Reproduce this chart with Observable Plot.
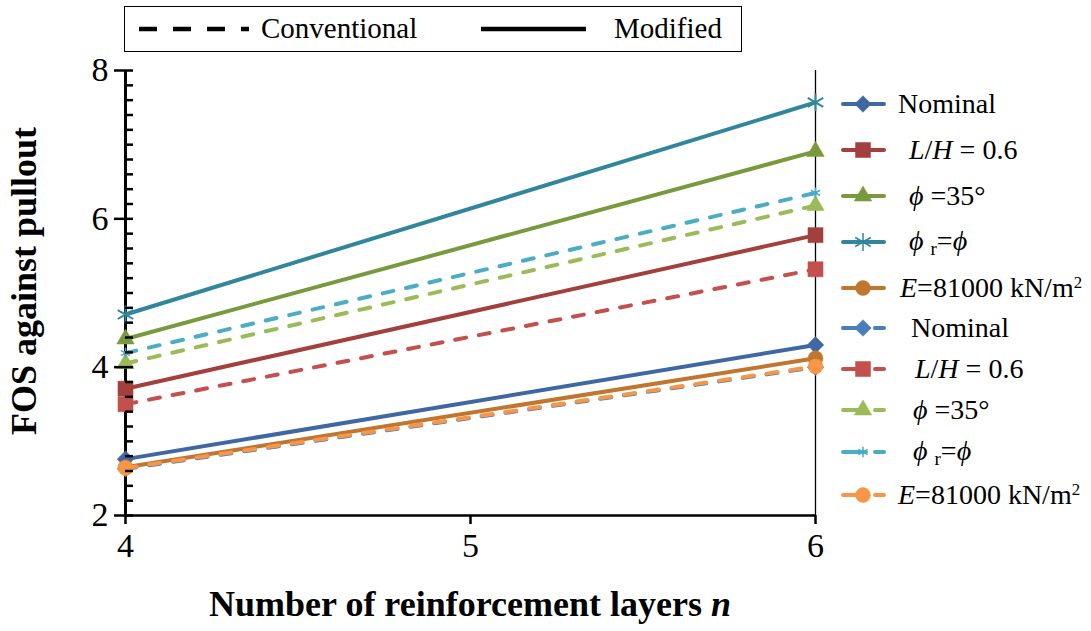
<!DOCTYPE html>
<html>
<head>
<meta charset="utf-8">
<script src="https://cdn.jsdelivr.net/npm/d3@7"></script>
<script src="https://cdn.jsdelivr.net/npm/@observablehq/plot@0.6"></script>
<style>
  body { margin: 0; background: #fff; }
  #wrap, #wrap * { font-family: "Liberation Serif", "Times New Roman", serif; }
  #wrap { position: relative; width: 1091px; height: 631px; color: #000; overflow: hidden; }
  #chart { position: absolute; left: 0; top: 0; }
  .toplegend { position: absolute; left: 124px; top: 6px; width: 618px; height: 46px; border: 1.5px solid #000; box-sizing: border-box; }
  .tl { position: absolute; top: 0; height: 43px; line-height: 43px; font-size: 29px; font-weight: normal; white-space: nowrap; }
  .entry { position: absolute; left: 838px; height: 30px; display: flex; align-items: center; white-space: pre; font-size: 28px; font-weight: normal; }
  .entry svg { flex: none; }
  .ytitle { position: absolute; left: 24px; top: 281px; transform: translate(-50%, -50%) rotate(-90deg); font-weight: bold; font-size: 36px; line-height: 36px; white-space: nowrap; }
  .xtitle { position: absolute; left: 470px; top: 604px; transform: translate(-50%, -50%); font-weight: bold; font-size: 36px; line-height: 36px; white-space: nowrap; }
  sub { font-size: 0.68em; vertical-align: -0.25em; }
  sup { font-size: 0.6em; vertical-align: 0.55em; }
  #chart svg text { font-family: "Liberation Serif", "Times New Roman", serif; }
</style>
</head>
<body>
<div id="wrap">
  <div id="chart"></div>
  <div class="toplegend">
    <svg style="position:absolute;left:12px;top:18px" width="120" height="8">
      <line x1="2" y1="4" x2="112" y2="4" stroke="#000" stroke-width="4.5" stroke-dasharray="18,16"></line>
    </svg>
    <div class="tl" style="left:136px">Conventional</div>
    <svg style="position:absolute;left:354px;top:18px" width="110" height="8">
      <line x1="2" y1="4" x2="107" y2="4" stroke="#000" stroke-width="4.5"></line>
    </svg>
    <div class="tl" style="left:489px">Modified</div>
  </div>
  <div id="legend"></div>
  <div class="ytitle">FOS against pullout</div>
  <div class="xtitle">Number of reinforcement layers <i>n</i></div>
</div>
<script>
// ---- data ----
const nLayers = [4, 6];
const seriesNames = ["Nominal", "L/H = 0.6", "ϕ =35°", "ϕr=ϕ", "E=81000 kN/m2"];
// Modified (solid)
const modNominal = [2.76, 4.30];
const modLH      = [3.71, 5.78];
const modPhi     = [4.38, 6.91];
const modPhiR    = [4.71, 7.57];
const modE       = [2.65, 4.12];
// Conventional (dashed)
const convNominal = [2.63, 4.00];
const convLH      = [3.50, 5.32];
const convPhi     = [4.05, 6.18];
const convPhiR    = [4.19, 6.35];
const convE       = [2.64, 4.01];
// axis ticks
const xTicks = [4, 5, 6];
const yTicks = [2, 4, 6, 8];

// ---- styles ----
const solidColors = ["#3F68A3", "#A3403D", "#789A3D", "#31869D", "#C0762F"];
const dashColors  = ["#4A7EBB", "#C3504D", "#9BBB59", "#4BACC6", "#F79646"];
const symbols = ["diamond2", "square", "triangle", "asterisk", "circle"];
const solidR = [7.5, 8.5, 6.5, 8.5, 7.5];
const dashR  = [7.5, 8.5, 6.5, 5.0, 7.5];

const modSeries = [modNominal, modLH, modPhi, modPhiR, modE];
const convSeries = [convNominal, convLH, convPhi, convPhiR, convE];

const rows = (vals) => nLayers.map((n, i) => ({n, v: vals[i]}));
const minorTicks = d3.range(2, 8.001, 0.2).map(v => +v.toFixed(1)).filter(v => !yTicks.includes(v));

const marks = [];
// frame lines
marks.push(Plot.ruleX([6], {stroke: "#000", strokeWidth: 1.3}));
marks.push(Plot.ruleY([2], {stroke: "#000", strokeWidth: 2.5}));
marks.push(Plot.ruleX([4], {stroke: "#000", strokeWidth: 3}));

function addSeries(vals, k, dashed) {
  const c = dashed ? dashColors[k] : solidColors[k];
  const data = rows(vals);
  marks.push(Plot.line(data, {
    x: "n", y: "v", stroke: c, strokeWidth: 4,
    strokeDasharray: dashed ? "11,13" : null,
    strokeLinecap: dashed ? "round" : "butt"
  }));
  const isStar = symbols[k] === "asterisk";
  marks.push(Plot.dot(data, {
    x: "n", y: "v", symbol: symbols[k],
    r: dashed ? dashR[k] : solidR[k],
    fill: isStar ? "none" : c,
    stroke: c,
    strokeWidth: isStar ? (dashed ? 1.5 : 2) : 0.5
  }));
}
modSeries.forEach((s, k) => addSeries(s, k, false));
convSeries.forEach((s, k) => addSeries(s, k, true));

// axes
const fmt = d3.format("d");
marks.push(Plot.axisX(xTicks, {tickSize: 9, strokeWidth: 2.5, tickPadding: 8, fontSize: 34, tickFormat: fmt, label: null}));
marks.push(Plot.axisY(yTicks, {tickSize: 0, tickPadding: 17, fontSize: 34, tickFormat: fmt, label: null}));
marks.push(Plot.axisY(yTicks, {tickSize: 19, dx: 8, strokeWidth: 2.5, tickFormat: () => "", label: null}));
marks.push(Plot.axisY(minorTicks, {tickSize: 8, dx: 8, strokeWidth: 2.5, tickFormat: () => "", label: null}));

const chart = Plot.plot({
  width: 1091,
  height: 631,
  marginLeft: 125,
  marginRight: 276,
  marginTop: 70,
  marginBottom: 116,
  x: {domain: [4, 6]},
  y: {domain: [2, 8]},
  style: {fontFamily: "Liberation Serif", fontSize: "34px", color: "#000", background: "#fff", overflow: "visible"},
  marks
});
document.getElementById("chart").appendChild(chart);

// ---- right-hand legend ----
const labelsHtml = [
  "Nominal",
  " <i>L</i>/<i>H</i> = 0.6",
  " <i>ϕ</i> =35°",
  " <i>ϕ</i> <sub>r</sub>=<i>ϕ</i>",
  "<i>E</i>=81000 kN/m<sup>2</sup>"
];
const solidYs = [104, 150, 196, 242, 288];
const dashYs  = [328, 369, 410, 452, 495];
const textPadSolid = [10, 14, 14, 14, 12];
const textPadDash  = [23, 20, 18, 18, 10];
const legend = document.getElementById("legend");
const ns = "http://www.w3.org/2000/svg";
function legendEntry(k, dashed, cy) {
  const c = dashed ? dashColors[k] : solidColors[k];
  const div = document.createElement("div");
  div.className = "entry";
  div.style.top = (cy - 15) + "px";
  const svg = document.createElementNS(ns, "svg");
  svg.setAttribute("width", 50); svg.setAttribute("height", 30);
  const line = document.createElementNS(ns, "line");
  line.setAttribute("x1", 5); line.setAttribute("x2", 46);
  line.setAttribute("y1", 15); line.setAttribute("y2", 15);
  line.setAttribute("stroke", c); line.setAttribute("stroke-width", 4);
  line.setAttribute("stroke-linecap", "round");
  if (dashed) line.setAttribute("stroke-dasharray", "23,9,12");
  svg.appendChild(line);
  const sym = {diamond2: d3.symbolDiamond2, square: d3.symbolSquare, triangle: d3.symbolTriangle, asterisk: d3.symbolAsterisk, circle: d3.symbolCircle}[symbols[k]];
  const r = dashed ? dashR[k] : solidR[k];
  const p = document.createElementNS(ns, "path");
  p.setAttribute("d", d3.symbol(sym, Math.PI * r * r)());
  p.setAttribute("transform", "translate(25,15)");
  const isStar = symbols[k] === "asterisk";
  p.setAttribute("fill", isStar ? "none" : c);
  p.setAttribute("stroke", c);
  p.setAttribute("stroke-width", isStar ? 1.5 : 0.5);
  svg.appendChild(p);
  div.appendChild(svg);
  const t = document.createElement("span");
  t.style.marginLeft = (dashed ? textPadDash[k] : textPadSolid[k]) + "px";
  t.innerHTML = labelsHtml[k];
  div.appendChild(t);
  legend.appendChild(div);
}
seriesNames.forEach((name, k) => legendEntry(k, false, solidYs[k]));
seriesNames.forEach((name, k) => legendEntry(k, true, dashYs[k]));
</script>
</body>
</html>
